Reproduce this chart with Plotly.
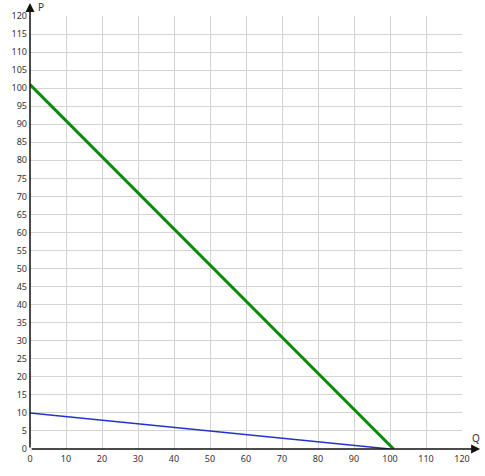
import plotly.graph_objects as go

# demand lines
Q = [0, 101]
P_GREEN = [101, 0]
Q_BLUE = [0, 100]
P_BLUE = [10, 0]

X_TICKS = list(range(0, 121, 10))
Y_TICKS = list(range(0, 121, 5))

GREEN = "#0a8a0a"
BLUE = "#2233cc"
GRID = "#d3d3d3"
TEXT = "#333333"

fig = go.Figure()
fig.add_trace(go.Scatter(x=Q, y=P_GREEN, mode="lines",
                         line=dict(color=GREEN, width=3), showlegend=False))
fig.add_trace(go.Scatter(x=Q_BLUE, y=P_BLUE, mode="lines",
                         line=dict(color=BLUE, width=1.5), showlegend=False))

axis_common = dict(showgrid=True, gridcolor=GRID, gridwidth=1, zeroline=False,
                   showline=False, ticks="", automargin=False,
                   tickfont=dict(size=9, color=TEXT))

fig.update_xaxes(range=[0, 120], tickvals=X_TICKS, ticklabelstandoff=3, **axis_common)
fig.update_yaxes(range=[0, 120], tickvals=Y_TICKS, ticklabelstandoff=2, **axis_common)

# axes with arrowheads, running past the grid (offsets in pixels)
fig.add_annotation(x=1.042, y=0, xref="paper", yref="paper", ax=-450, ay=0,
                   text="", showarrow=True, arrowhead=2, arrowsize=1.2,
                   arrowwidth=1.5, arrowcolor="#111")
fig.add_annotation(x=0, y=1.03, xref="paper", yref="paper", ax=0, ay=446,
                   text="", showarrow=True, arrowhead=2, arrowsize=1.2,
                   arrowwidth=1.5, arrowcolor="#111")
fig.add_annotation(x=0.025, y=1.021, xref="paper", yref="paper", text="P",
                   showarrow=False, xanchor="center", yanchor="middle",
                   font=dict(size=10, color=TEXT))
fig.add_annotation(x=1.032, y=0.025, xref="paper", yref="paper", text="Q",
                   showarrow=False, xanchor="center", yanchor="middle",
                   font=dict(size=10, color=TEXT))

fig.update_layout(
    width=485, height=476,
    margin=dict(l=30, r=23, t=16, b=27, autoexpand=False),
    paper_bgcolor="white", plot_bgcolor="white",
    font=dict(family="Noto Sans, sans-serif", color=TEXT),
)

# drop the browser's default body margin so the figure sits at the corner
fig.write_html("out.html", config={"displayModeBar": False},
               post_script="document.body.style.margin='0px';")
